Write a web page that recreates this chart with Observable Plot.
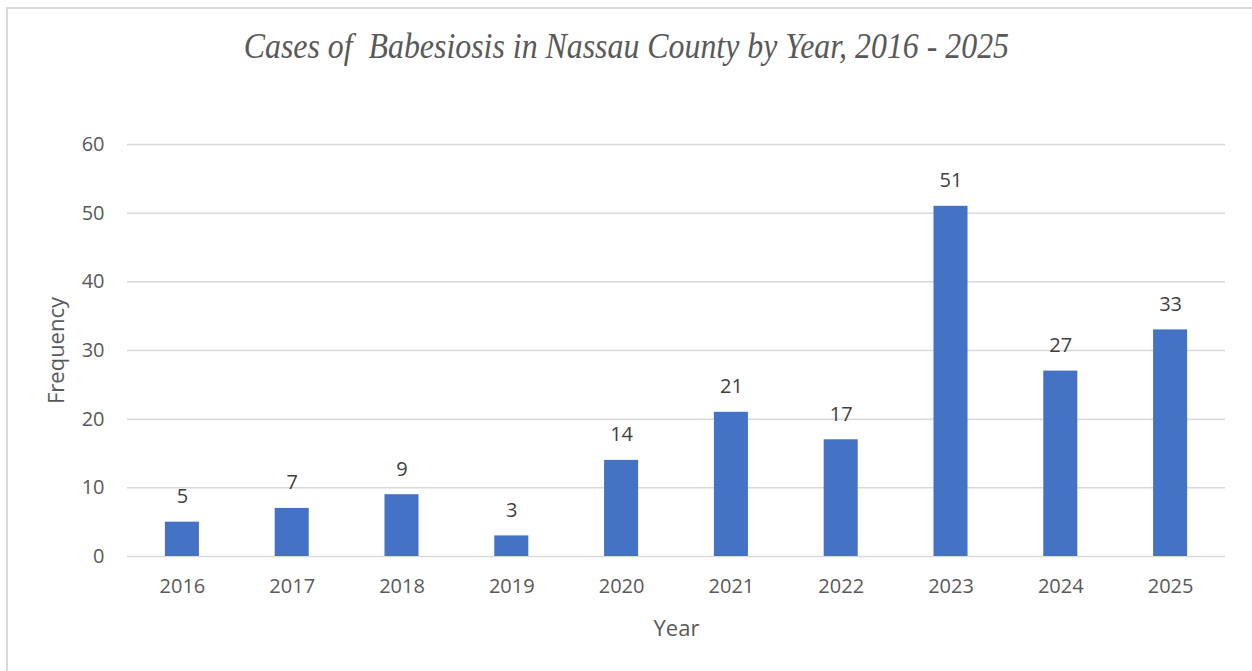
<!DOCTYPE html>
<html>
<head>
<meta charset="utf-8">
<script src="https://cdn.jsdelivr.net/npm/d3@7"></script>
<script src="https://cdn.jsdelivr.net/npm/@observablehq/plot@0.6"></script>
<style>
  html, body { margin: 0; padding: 0; background: #fff; overflow: hidden; }
  #frame { position: absolute; left: 6px; top: 7px; width: 1400px; height: 800px; border: 2px solid #d9d9d9; box-sizing: border-box; pointer-events: none; }
  #title { height: 90px; width: 1252px; box-sizing: border-box; padding-top: 25px; text-align: center;
    font-family: "Liberation Serif", "Times New Roman", serif; font-style: italic; font-size: 36px; color: #595959; white-space: pre; }
  #title span { display: inline-block; transform: scaleX(0.885); transform-origin: 50% 50%; }
  #chart { position: relative; }
  g[aria-label="x-axis label"] text, g[aria-label="y-axis label"] text { font-size: 22px; }
  g[aria-label="x-axis label"], g[aria-label="y-axis label"] { font-size: 22px; }
</style>
</head>
<body>
<div id="title"><span>Cases of  Babesiosis in Nassau County by Year, 2016 - 2025</span></div>
<div id="chart"></div>
<div id="frame"></div>
<script>
const years = ["2016", "2017", "2018", "2019", "2020", "2021", "2022", "2023", "2024", "2025"];
const cases = [5, 7, 9, 3, 14, 21, 17, 51, 27, 33];
const yTicks = [0, 10, 20, 30, 40, 50, 60];

const data = years.map((year, i) => ({year, cases: cases[i]}));

const chart = Plot.plot({
  width: 1252,
  height: 581,
  marginTop: 54,
  marginBottom: 115,
  marginLeft: 127,
  marginRight: 27,
  style: {fontFamily: "'Open Sans', sans-serif", background: "transparent", overflow: "visible"},
  x: {domain: years, paddingInner: 0.69, paddingOuter: 0.345, align: 0.5, round: false},
  y: {domain: [0, 60]},
  marks: [
    Plot.gridY(yTicks, {stroke: "#d9d9d9", strokeOpacity: 1, strokeWidth: 1.5}),
    Plot.barY(data, {x: "year", y: "cases", fill: "#4472C4"}),
    Plot.text(data, {x: "year", y: "cases", text: d => String(d.cases), lineAnchor: "bottom", dy: -19, fontSize: 20, fill: "#404040"}),
    Plot.axisY({ticks: yTicks, tickSize: 0, tickPadding: 23, fontSize: 20, fill: "#595959",
      label: "Frequency", labelAnchor: "center", labelArrow: "none", labelOffset: 79}),
    Plot.axisX({tickSize: 0, tickPadding: 22, fontSize: 20, fill: "#595959",
      label: "Year", labelAnchor: "center", labelArrow: "none", labelOffset: 79})
  ]
});
document.getElementById("chart").appendChild(chart);
</script>
</body>
</html>
